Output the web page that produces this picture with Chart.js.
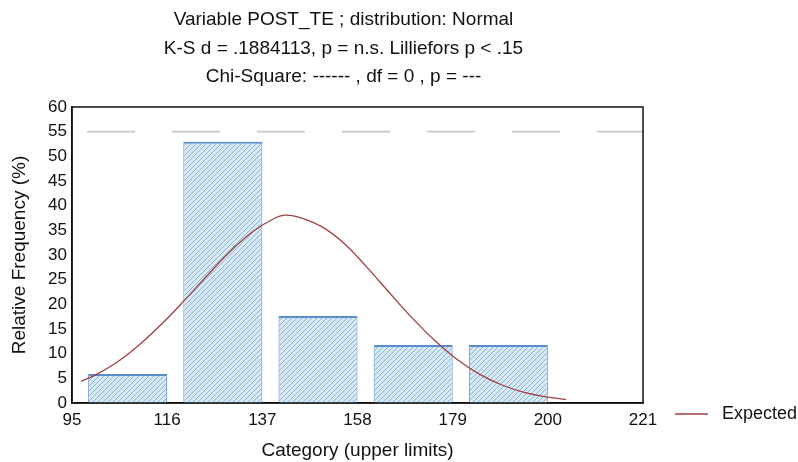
<!DOCTYPE html>
<html>
<head>
<meta charset="utf-8">
<script src="https://cdn.jsdelivr.net/npm/chart.js@4"></script>
<style>
  html, body { margin: 0; padding: 0; background: #fff; }
  #wrap { width: 798px; height: 462px; }
</style>
</head>
<body>
<div id="wrap"><canvas id="histChart" width="798" height="462"></canvas></div>
<script>
// bins (upper limits) and observed relative frequencies (%)
var binWidth = 21;
var upperLimits = [116, 137, 158, 179, 200];
var relFreq = [5.88, 52.94, 17.65, 11.76, 11.76];

// expected normal curve
var expectedX = [97, 100, 105, 110, 115, 120, 125, 130, 135, 140, 142, 145, 150, 155, 160, 165, 170, 175, 180, 185, 190, 195, 200, 204];
var expectedY = [4.4, 5.6, 8.3, 11.9, 16.2, 21.0, 26.0, 30.8, 34.8, 37.6, 38.1, 37.7, 35.8, 32.4, 27.6, 22.4, 17.3, 12.7, 8.8, 5.8, 3.6, 2.1, 1.2, 0.7];

// tick labels
var xTicks = [95, 116, 137, 158, 179, 200, 221];
var yTicks = [0, 5, 10, 15, 20, 25, 30, 35, 40, 45, 50, 55, 60];
var refLevel = 55;

var titleLines = [
    'Variable POST_TE ; distribution: Normal',
    'K-S d = .1884113, p = n.s. Lilliefors p < .15',
    'Chi-Square: ------ , df = 0 , p = ---'
];

var FONT = "'Liberation Sans', Arial, sans-serif";
Chart.defaults.font.family = FONT;
Chart.defaults.color = '#111';

var ctx = document.getElementById('histChart').getContext('2d');

// light blue fill with diagonal hatching
function makeHatch() {
    var c = document.createElement('canvas');
    c.width = 5; c.height = 5;
    var g = c.getContext('2d');
    g.fillStyle = '#d4eaf7';
    g.fillRect(0, 0, 5, 5);
    g.strokeStyle = '#91aac9';
    g.lineWidth = 0.9;
    g.beginPath();
    g.moveTo(0, 5); g.lineTo(5, 0);
    g.moveTo(-1, 1); g.lineTo(1, -1);
    g.moveTo(4, 6); g.lineTo(6, 4);
    g.stroke();
    return ctx.createPattern(c, 'repeat');
}

var barFrac = 0.83;
// bars sit flush against their upper limit
var barPoints = upperLimits.map(function (u, i) {
    return { x: u - binWidth * barFrac / 2, y: relFreq[i] };
});
var curvePoints = expectedX.map(function (x, i) { return { x: x, y: expectedY[i] }; });
var refPoints = [{ x: xTicks[0], y: refLevel }, { x: xTicks[xTicks.length - 1], y: refLevel }];

// frame around the plot area
var frame = {
    id: 'frame',
    afterDatasetsDraw: function (chart) {
        var a = chart.chartArea, c = chart.ctx;
        c.save();
        c.strokeStyle = '#111';
        c.lineWidth = 1.5;
        c.strokeRect(a.left, a.top, a.right - a.left, a.bottom - a.top);
        c.restore();
    }
};

// the title in the original sits a little left of the plot centre
var titleShift = {
    id: 'titleShift',
    afterLayout: function (chart) {
        if (chart.titleBlock) chart.titleBlock.left -= 28;
    }
};

// legend entry to the right of the x axis
var sideLegend = {
    id: 'sideLegend',
    afterDraw: function (chart) {
        var ds = chart.data.datasets[0], c = chart.ctx;
        var y = chart.chartArea.bottom + 11;
        var x0 = chart.chartArea.right + 32;
        c.save();
        c.strokeStyle = ds.borderColor;
        c.lineWidth = 1.5;
        c.beginPath();
        c.moveTo(x0, y); c.lineTo(x0 + 33, y);
        c.stroke();
        c.fillStyle = '#111';
        c.font = '18px ' + FONT;
        c.textBaseline = 'middle';
        c.fillText(ds.label, x0 + 47, y);
        c.restore();
    }
};

var histChart = new Chart(ctx, {
    type: 'bar',
    data: {
        datasets: [{
            type: 'line',
            label: 'Expected',
            data: curvePoints,
            borderColor: '#a0403f',
            borderWidth: 1.3,
            pointRadius: 0,
            tension: 0.4,
            fill: false,
            order: 0
        }, {
            type: 'line',
            label: 'ref',
            data: refPoints,
            borderColor: '#c8c8c8',
            borderWidth: 1.6,
            borderDash: [48, 37],
            borderDashOffset: 70,
            pointRadius: 0,
            fill: false,
            order: 1
        }, {
            type: 'bar',
            label: 'Observed',
            data: barPoints,
            backgroundColor: makeHatch(),
            borderColor: '#5a8dcc',
            borderWidth: { top: 2, left: 1, right: 1, bottom: 0 },
            borderSkipped: false,
            barPercentage: barFrac,
            categoryPercentage: 1,
            order: 2
        }]
    },
    options: {
        responsive: false,
        animation: false,
        layout: { padding: { left: 0, right: 155, top: 0, bottom: 0 } },
        plugins: {
            legend: { display: false },
            tooltip: { enabled: false },
            title: {
                display: true,
                text: titleLines,
                fullSize: false,
                color: '#111',
                font: { size: 19, weight: 'normal', lineHeight: 1.5 },
                padding: { top: 6, bottom: 15.5 }
            }
        },
        scales: {
            x: {
                type: 'linear',
                min: xTicks[0],
                max: xTicks[xTicks.length - 1],
                offset: false,
                grid: { display: false, drawTicks: false },
                border: { display: true, color: '#111', width: 1.5 },
                afterBuildTicks: function (s) {
                    s.ticks = xTicks.map(function (v) { return { value: v }; });
                },
                afterFit: function (s) { s.height = 59; },
                ticks: {
                    padding: 7,
                    maxRotation: 0,
                    autoSkip: false,
                    color: '#111',
                    font: { size: 17 }
                },
                title: {
                    display: true,
                    text: 'Category (upper limits)',
                    color: '#111',
                    font: { size: 19 },
                    padding: { top: 0, bottom: 0 }
                }
            },
            y: {
                min: yTicks[0],
                max: yTicks[yTicks.length - 1],
                grid: { display: false, drawTicks: false },
                border: { display: true, color: '#111', width: 1.5 },
                afterBuildTicks: function (s) {
                    s.ticks = yTicks.map(function (v) { return { value: v }; });
                },
                afterFit: function (s) { s.width = 72; },
                ticks: {
                    padding: 5,
                    autoSkip: false,
                    color: '#111',
                    font: { size: 17 }
                },
                title: {
                    display: true,
                    text: 'Relative Frequency (%)',
                    color: '#111',
                    font: { size: 19 },
                    padding: { top: 8, bottom: 0 }
                }
            }
        }
    },
    plugins: [frame, titleShift, sideLegend]
});
</script>
</body>
</html>
